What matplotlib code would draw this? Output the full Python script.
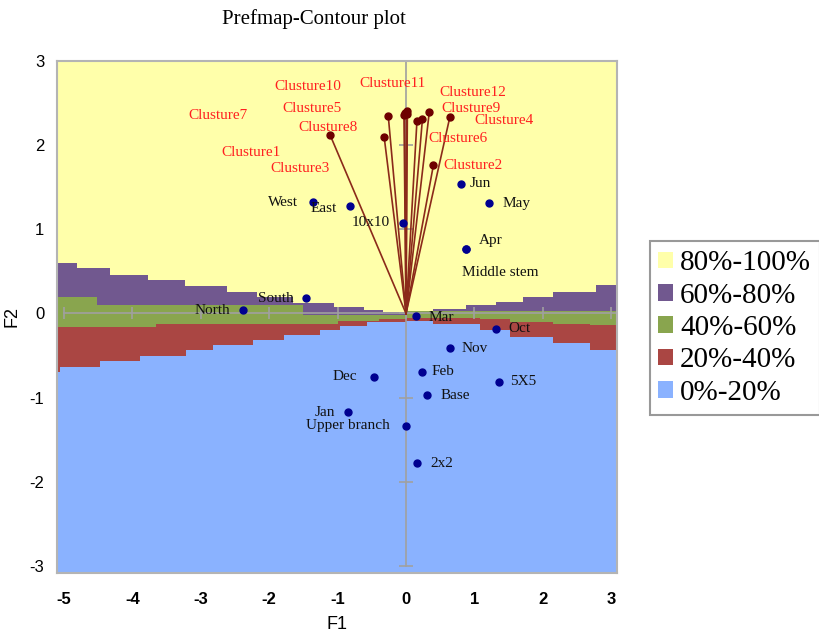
import matplotlib
matplotlib.use("Agg")
import numpy as np
import matplotlib.pyplot as plt
from matplotlib.patches import Patch

plt.rcParams["axes.unicode_minus"] = False

# observations (blue dots)
obs_names = ["West", "East", "10x10", "South", "North", "Mar", "Jun", "May", "Apr",
             "Middle stem", "Oct", "Nov", "Feb", "Base", "5X5", "Dec", "Jan",
             "Upper branch", "2x2"]
obs_f1 = [-1.36, -0.82, -0.04, -1.46, -2.39, 0.14, 0.80, 1.22, 0.88,
          0.87, 1.32, 0.64, 0.23, 0.31, 1.36, -0.47, -0.85, 0.00, 0.16]
obs_f2 = [1.32, 1.28, 1.08, 0.18, 0.04, -0.03, 1.54, 1.31, 0.77,
          0.76, -0.18, -0.41, -0.69, -0.97, -0.81, -0.75, -1.17, -1.34, -1.78]

# preference vectors (clusters)
cl_names = ["Clusture1", "Clusture2", "Clusture3", "Clusture4", "Clusture5", "Clusture6",
            "Clusture7", "Clusture8", "Clusture9", "Clusture10", "Clusture11", "Clusture12"]
cl_f1 = [-0.32, 0.40, -0.03, 0.64, -0.26, 0.16, 0.01, -1.11, 0.34, -0.02, 0.02, 0.24]
cl_f2 = [2.10, 1.76, 2.36, 2.33, 2.35, 2.29, 2.37, 2.12, 2.39, 2.38, 2.40, 2.31]

# contour band boundaries (step lines)
b1_x = [-5.11, -4.81, -4.33, -3.77, -3.23, -2.62, -2.18, -1.65, -1.06, -0.62, -0.33, 0.0,
        0.40, 0.87, 1.32, 1.71, 2.15, 2.78, 3.09]
b1_y = [0.60, 0.54, 0.46, 0.40, 0.33, 0.26, 0.20, 0.13, 0.08, 0.04, 0.02, 0.02,
        0.05, 0.10, 0.14, 0.20, 0.26, 0.34, 0.34]
b2_x = [-5.11, -4.52, -1.50, 0.0, 3.09]
b2_y = [0.19, 0.10, -0.02, 0.03, 0.03]
b3_x = [-5.11, -3.65, -1.0, -0.4, 0.0, 1.08, 1.52, 2.15, 2.69, 3.09]
b3_y = [-0.16, -0.12, -0.09, -0.07, -0.05, -0.07, -0.10, -0.12, -0.14, -0.14]
b4_x = [-5.11, -5.06, -4.47, -3.89, -3.21, -2.82, -2.23, -1.79, -1.26, -0.96, -0.57, 0.0,
        0.40, 1.08, 1.52, 2.15, 2.69, 3.09]
b4_y = [-0.70, -0.63, -0.57, -0.50, -0.43, -0.37, -0.31, -0.26, -0.20, -0.15, -0.10, -0.09,
        -0.12, -0.20, -0.28, -0.35, -0.43, -0.43]

band_labels = ["80%-100%", "60%-80%", "40%-60%", "20%-40%", "0%-20%"]
band_colors = ["#FFFFAA", "#71588F", "#89A54E", "#AA4643", "#8AB2FF"]

# label placement: (dx, dy) in pixels and alignment
obs_offsets = [(-15, 0, "right"), (-13, -3, "right"), (-13, 0, "right"), (-13, 0, "right"),
               (-12, 0, "right"), (13, -1, "left"), (9, 0, "left"), (13, 0, "left"),
               (13, 8, "left"), (-4, -23, "left"), (12, 0, "left"), (12, 0, "left"),
               (10, 0, "left"), (13, 0, "left"), (11, 0, "left"), (-17, 0, "right"),
               (-13, 0, "right"), (-16, 1, "right"), (13, 0, "left")]
cl_label_pos = [(-2.27, 1.91), (0.98, 1.76), (-1.55, 1.72), (1.43, 2.29), (-1.38, 2.43),
                (0.76, 2.08), (-2.75, 2.35), (-1.14, 2.21), (0.95, 2.43), (-1.43, 2.69),
                (-0.20, 2.73), (0.97, 2.62)]

serif = "Liberation Serif"
sans = "Liberation Sans"
xmin, xmax, ymin, ymax = -5.107, 3.08, -3.082, 3.002

fig = plt.figure(figsize=(8.19, 6.35), dpi=100)
ax = fig.add_axes([0.0692, 0.0976, 0.6838, 0.8068])
ax.set_xlim(xmin, xmax)
ax.set_ylim(ymin, ymax)

# bands, painted from the top one down
ax.set_facecolor(band_colors[0])
for bx, by, col in zip([b1_x, b2_x, b3_x, b4_x], [b1_y, b2_y, b3_y, b4_y], band_colors[1:]):
    ax.fill_between(bx, ymin, by, step="post", color=col, lw=0, zorder=1)

# axes through the origin with cross ticks
gcol = "#A0A0A0"
ax.plot([-5, xmax], [0, 0], color=gcol, lw=1.2, zorder=2)
ax.plot([0, 0], [-3, ymax], color=gcol, lw=1.2, zorder=2)
xt = np.arange(-5, 4)
yt = np.arange(-3, 4)
ax.plot(xt, np.zeros_like(xt), ls="none", marker="|", ms=9, mew=1.2, color=gcol, zorder=2)
ax.plot(np.zeros_like(yt), yt, ls="none", marker="_", ms=10, mew=1.2, color=gcol, zorder=2)

# cluster vectors
for x, y in zip(cl_f1, cl_f2):
    ax.plot([0, x], [0, y], color="#8B2A1A", lw=1.2, zorder=3)
ax.plot(cl_f1, cl_f2, ls="none", marker="o", ms=5, color="#6E0000", zorder=4)
for name, (lx, ly) in zip(cl_names, cl_label_pos):
    ax.text(lx, ly, name, color="#FF2020", fontsize=11, family=serif,
            ha="center", va="center", zorder=5)

# observations
ax.plot(obs_f1, obs_f2, ls="none", marker="o", ms=5, color="#000090", zorder=4)
for name, x, y, (dx, dy, ha) in zip(obs_names, obs_f1, obs_f2, obs_offsets):
    ax.annotate(name, (x, y), xytext=(dx, dy), textcoords="offset pixels",
                fontsize=11, family=serif, ha=ha, va="center", color="#111111", zorder=5)

ax.set_xticks(xt)
ax.set_yticks(yt)
ax.tick_params(length=0, labelsize=12)
ax.tick_params(axis="x", pad=14)
ax.tick_params(axis="y", pad=9)
for lab in ax.get_xticklabels():
    lab.set_fontweight("bold")
    lab.set_family(sans)
for lab in ax.get_yticklabels():
    lab.set_family(sans)
for sp in ax.spines.values():
    sp.set_color("#B4B4B4")
    sp.set_linewidth(1.5)

ax.set_xlabel("F1", fontsize=13, family=sans, labelpad=6)
ax.set_ylabel("F2", fontsize=13, family=sans, labelpad=6)

fig.text(314 / 819, 1 - 19 / 635, "Prefmap-Contour plot", family=serif, fontsize=15,
         ha="center", va="center")

handles = [Patch(facecolor=c, edgecolor="none") for c in band_colors]
leg = fig.legend(handles, band_labels, loc="upper left",
                 bbox_to_anchor=(649.5 / 819, 1 - 241.5 / 635), borderaxespad=0,
                 prop={"family": serif, "size": 21}, frameon=True, fancybox=False,
                 handlelength=0.5, handleheight=0.5, handletextpad=0.25,
                 labelspacing=0.22, borderpad=0.3)
leg.get_frame().set_edgecolor("#808080")
leg.get_frame().set_linewidth(1.5)

fig.savefig("out.png", dpi=100)
